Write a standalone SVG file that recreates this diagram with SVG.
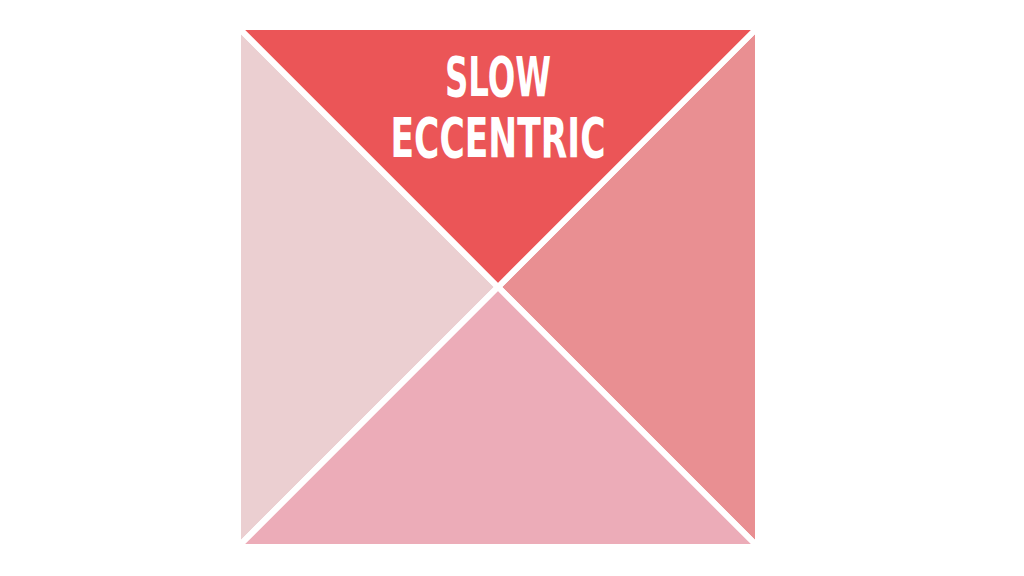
<svg xmlns="http://www.w3.org/2000/svg" width="1024" height="576" viewBox="0 0 1024 576">
<style>
.tri{stroke:#ffffff;stroke-width:6;stroke-linejoin:miter}
.lbl{font-family:"DejaVu Sans Condensed","Liberation Sans",sans-serif;font-weight:bold;fill:#ffffff;text-anchor:middle;font-size:55px}
</style>
<rect width="1024" height="576" fill="#ffffff"/>
<g id="left"><polygon class="tri" fill="#ebcfd1" points="238,27 498,287 238,547"/></g>
<g id="right"><polygon class="tri" fill="#e98f92" points="758,27 758,547 498,287"/></g>
<g id="bottom"><polygon class="tri" fill="#ecacb8" points="238,547 498,287 758,547"/></g>
<g id="top"><polygon class="tri" fill="#eb5557" points="238,27 758,27 498,287"/>
<text class="lbl" x="498" y="96" textLength="106" lengthAdjust="spacingAndGlyphs">SLOW</text>
<text class="lbl" x="498" y="157" textLength="215" lengthAdjust="spacingAndGlyphs">ECCENTRIC</text>
</g>
</svg>
